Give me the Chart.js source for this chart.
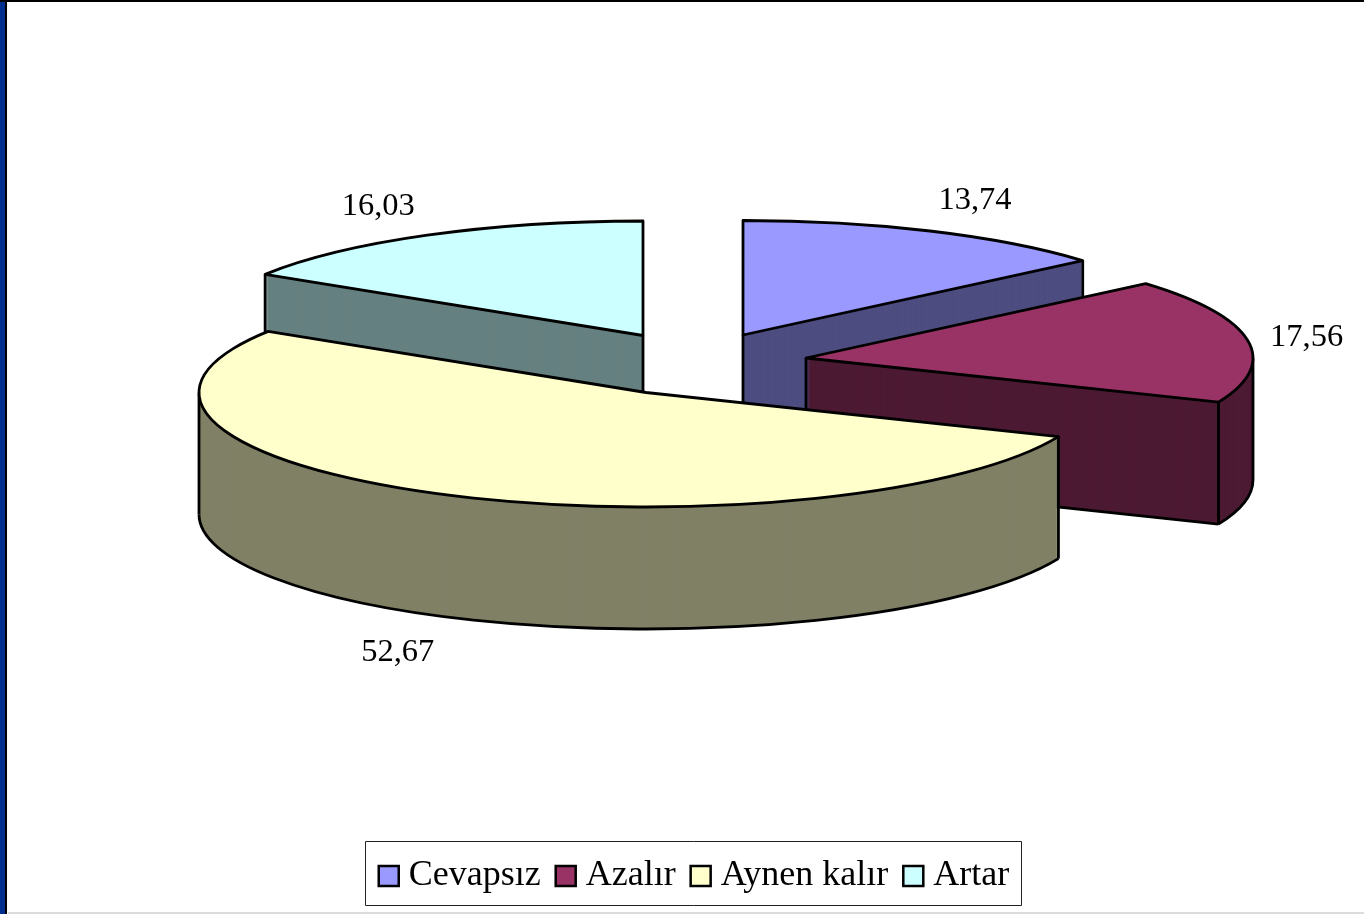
<!DOCTYPE html>
<html><head><meta charset="utf-8">
<script src="https://cdn.jsdelivr.net/npm/chart.js@4"></script>
<style>
html,body{margin:0;padding:0;background:#fff;overflow:hidden}
#wrap{position:relative;width:1364px;height:914px;background:#fff}
canvas{position:absolute;left:0;top:0}
.s{position:absolute}
</style></head><body>
<div id="wrap">
<canvas id="c" width="1364" height="914"></canvas>
<div class="s" style="left:0;top:0;width:5px;height:914px;background:#00308f"></div>
<div class="s" style="left:5px;top:0;width:2px;height:914px;background:#000"></div>
<div class="s" style="left:0;top:0;width:1364px;height:2px;background:#000"></div>
<div class="s" style="left:8px;top:912px;width:1356px;height:2px;background:#dcdcdc"></div>
</div>
<script>
const categories = ['Cevapsız', 'Azalır', 'Aynen kalır', 'Artar'];
const values = [13.74, 17.56, 52.67, 16.03];
const topColors = ['#9999FF', '#993366', '#FFFFCC', '#CCFFFF'];
const sideColors = ['#4D4D80', '#4D1A33', '#808066', '#668080'];

const TARGET_X = 693, TARGET_Y = 363, RX = 447, RY = 114.5, DEPTH = 122, LINE = 2.8;
const K = RY / RX;
// screen shift of each exploded slice, and of each value label from its rim point
const SHIFT = [[50, -28], [113, -5], [-47, 29.5], [-50, -27.5]];
const LABEL_NUDGE = [[45, -31], [59, -3], [-42, 36], [-49, -29]];
const ORDER = [3, 0, 1, 2];

const pie3d = {
  id: 'pie3d',
  beforeDatasetsDraw(chart) {
    const ctx = chart.ctx;
    const arcs = chart.getDatasetMeta(0).data;
    const place = (arc, i, d) => {
      ctx.transform(1, 0, 0, K, TARGET_X + SHIFT[i][0] - arc.x,
        TARGET_Y + SHIFT[i][1] + d - K * arc.y);
    };
    const paint = (arc, i, d, color) => {
      const saved = arc.options;
      arc.options = Object.assign({}, saved, {backgroundColor: color, borderWidth: 0});
      ctx.save(); place(arc, i, d); arc.draw(ctx); ctx.restore();
      arc.options = saved;
    };
    const strokeShape = (arc, i, d, build) => {
      ctx.save(); place(arc, i, d); ctx.beginPath(); build(arc); ctx.restore();
      ctx.lineWidth = LINE; ctx.strokeStyle = '#000'; ctx.lineJoin = 'round'; ctx.stroke();
    };
    ORDER.forEach(i => {
      const arc = arcs[i];
      const a0 = arc.startAngle, a1 = arc.endAngle, r = arc.outerRadius;
      for (let d = DEPTH; d >= 1; d--) paint(arc, i, d, sideColors[i]);

      const rim = a => [arc.x + r * Math.cos(a), arc.y + r * Math.sin(a)];
      const startWall = Math.cos(a0) < -1e-6, endWall = Math.cos(a1) > 1e-6;
      const lo = Math.max(a0, 0), hi = Math.min(a1, Math.PI);
      const hasArc = hi > lo;
      // lower outline
      strokeShape(arc, i, DEPTH, () => {
        if (startWall) {
          ctx.moveTo(arc.x, arc.y); ctx.lineTo(...rim(a0));
        }
        if (endWall) {
          ctx.moveTo(arc.x, arc.y); ctx.lineTo(...rim(a1));
        }
        if (hasArc) {
          ctx.moveTo(...rim(lo)); ctx.arc(arc.x, arc.y, r, lo, hi);
        }
      });
      // upright edges
      const uprights = [];
      if (startWall || endWall) uprights.push([arc.x, arc.y]);
      if (startWall) uprights.push(rim(a0));
      if (endWall) uprights.push(rim(a1));
      if (hasArc) uprights.push(rim(lo), rim(hi));
      uprights.forEach(p => {
        const x = TARGET_X + SHIFT[i][0] + (p[0] - arc.x);
        const y = TARGET_Y + SHIFT[i][1] + K * (p[1] - arc.y);
        ctx.beginPath(); ctx.moveTo(x, y); ctx.lineTo(x, y + DEPTH);
        ctx.lineWidth = LINE; ctx.strokeStyle = '#000'; ctx.stroke();
      });
      // top face
      paint(arc, i, 0, topColors[i]);
      strokeShape(arc, i, 0, () => {
        ctx.moveTo(arc.x, arc.y); ctx.arc(arc.x, arc.y, r, a0, a1); ctx.closePath();
      });
    });
    return false;
  },
  afterDraw(chart) {
    const ctx = chart.ctx;
    const arcs = chart.getDatasetMeta(0).data;
    ctx.save();
    ctx.font = '32.5px "Liberation Serif"';
    ctx.fillStyle = '#000'; ctx.textAlign = 'center'; ctx.textBaseline = 'middle';
    arcs.forEach((arc, i) => {
      const mid = (arc.startAngle + arc.endAngle) / 2;
      const x = TARGET_X + SHIFT[i][0] + RX * Math.cos(mid) + LABEL_NUDGE[i][0];
      const drop = Math.sin(mid) > 0.3 ? DEPTH : 0;
      const y = TARGET_Y + SHIFT[i][1] + RY * Math.sin(mid) + drop + LABEL_NUDGE[i][1];
      ctx.fillText(values[i].toFixed(2).replace('.', ','), x, y);
    });
    // legend frame
    const hb = chart.legend.legendHitBoxes;
    const left = Math.min(...hb.map(b => b.left)) - 21.5;
    const right = Math.max(...hb.map(b => b.left + b.width)) + 12;
    const cy = hb[0].top + hb[0].height / 2;
    ctx.strokeStyle = '#222'; ctx.lineWidth = 1;
    ctx.strokeRect(Math.round(left) + .5, Math.round(cy - 35) + .5, Math.round(right - left), 64);
    ctx.restore();
  }
};

new Chart(document.getElementById('c'), {
  type: 'pie',
  data: {
    labels: categories,
    datasets: [{data: values, backgroundColor: topColors, borderColor: '#000', borderWidth: 2.5, clip: false}]
  },
  options: {
    responsive: false,
    animation: false,
    radius: RX,
    layout: {padding: {left: 32, bottom: 10}},
    plugins: {
      tooltip: {enabled: false},
      legend: {
        position: 'bottom',
        labels: {
          usePointStyle: true, pointStyle: 'rect', boxWidth: 4, boxHeight: 20, padding: 23,
          color: '#000', font: {family: '"Liberation Serif"', size: 36}
        }
      }
    }
  },
  plugins: [pie3d]
});
</script>
</body></html>
